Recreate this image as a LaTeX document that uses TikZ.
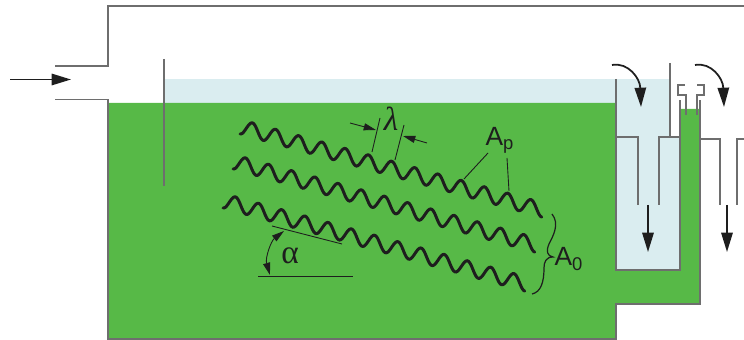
\documentclass[tikz,border=0pt]{standalone}
\usepackage{fontspec}
\setmainfont{Liberation Sans}
\newfontfamily\greekfont{Liberation Serif}
\usetikzlibrary{arrows.meta}
\definecolor{sludge}{HTML}{57B947}
\definecolor{clearwater}{HTML}{DAEDF0}
\definecolor{wall}{HTML}{6E6E6E}
\definecolor{ink}{HTML}{1E1E1E}
\begin{document}
\begin{tikzpicture}[
  x=0.02cm,
  y=-0.02cm,
  wallline/.style={draw=wall, line width=0.75pt},
  thinline/.style={draw=ink, line width=0.5pt},
  flow/.style={draw=ink, line width=1pt, -{Triangle[length=11pt,width=6.5pt]}},
  wave/.style={draw=ink, line width=1.7pt, line cap=round, smooth},
  lbl/.style={text=ink, inner sep=0pt, font=\fontsize{15}{15}\selectfont},
  greeklbl/.style={text=ink, inner sep=0pt, font=\fontsize{19}{19}\selectfont\greekfont}
]
\useasboundingbox (0,0) rectangle (744,340);

% water and sludge
\fill[clearwater] (164,79) rectangle (616,103);
\fill[clearwater] (616,79) rectangle (670,137);
\fill[clearwater] (616,137) rectangle (680,270);
\fill[sludge] (108,103) -- (616,103) -- (616,270) -- (680,270) -- (680,109) -- (700,109) -- (700,304) -- (616,304) -- (616,339) -- (108,339) -- cycle;

% tank walls
\draw[wallline] (55,66) -- (108,66) -- (108,6) -- (744,6);
\draw[wallline] (55,99.5) -- (108,99.5) -- (108,339) -- (616,339) -- (616,304) -- (700,304) -- (700,100);
\draw[wallline] (616,79) -- (616,270) -- (680,270) -- (680,100);
\draw[wallline] (164,59) -- (164,186);
\draw[wallline] (670,63) -- (670,137);
\draw[wallline] (616,137) -- (638,137) -- (638,205);
\draw[wallline] (659,205) -- (659,137) -- (680,137);
\draw[wallline] (700,139) -- (720,139) -- (720,205);
\draw[wallline] (737,205) -- (737,139) -- (744,139);

% weir caps
\draw[wallline] (686,115) -- (686,95) -- (678,95) -- (678,85) -- (685,85);
\draw[wallline] (697,115) -- (697,95) -- (704,95) -- (704,85) -- (697,85);

% flow arrows
\draw[flow] (10,79.5) -- (71,79.5);
\draw[flow] (648,205) -- (648,252);
\draw[flow] (727,205) -- (727,252);
\draw[flow] (612,65) .. controls (628,62) and (640,78) .. (641,107);
\draw[flow] (695,65) .. controls (711,62) and (723,78) .. (724,107);

% lamellas
\foreach \sx/\sy in {240/134, 233/169, 223/208} {
  \draw[wave, shift={(\sx,\sy)}, rotate=-15.4]
    plot[domain=-0.25:12.75, samples=260, variable=\t]
      ({24.08*\t - 1.5*sin(360*\t) + 4.52}, {-7*sin(360*\t) - 7});
}

% wavelength
\coordinate (lamA) at (372,152);
\coordinate (lamB) at (380,118);
\coordinate (lamC) at (395,160);
\coordinate (lamD) at (404,125);
\draw[thinline] (lamA) -- (lamB);
\draw[thinline] (lamC) -- (lamD);
\draw[thinline, -{Triangle[length=7pt,width=4pt]}] (350,123) -- (376,130);
\draw[thinline, -{Triangle[length=7pt,width=4pt]}] (427,143) -- (403,136);
\node[greeklbl] (lambda) at (391,119) {\textit{λ}};

% projected area
\node[lbl] (ap) at (500,140) {A\textsubscript{p}};
\coordinate (apA) at (488,153);
\coordinate (apB) at (464,179);
\coordinate (apC) at (507,158);
\coordinate (apD) at (509,191);
\draw[thinline] (apA) -- (apB);
\draw[thinline] (apC) -- (apD);

% angle
\coordinate (slopeA) at (272,226);
\coordinate (slopeB) at (342,244);
\coordinate (baseA) at (258,276);
\coordinate (baseB) at (353,276);
\draw[thinline] (slopeA) -- (slopeB);
\draw[thinline] (baseA) -- (baseB);
\draw[thinline, {Triangle[length=7pt,width=4pt]}-{Triangle[length=7pt,width=4pt]}] (284,231) .. controls (271,241) and (265,258) .. (270,275);
\node[greeklbl] (alpha) at (290,256) {α};

% total area
\draw[thinline, line width=0.7pt] (552,214) .. controls (560,224) and (553,236) .. (549,244) .. controls (546,251) and (547,256) .. (553,257) .. controls (546,257) and (544,262) .. (544,268) .. controls (544,282) and (541,292) .. (532,294);
\node[lbl] (atotal) at (569,259) {A\textsubscript{0}};
\end{tikzpicture}
\end{document}
